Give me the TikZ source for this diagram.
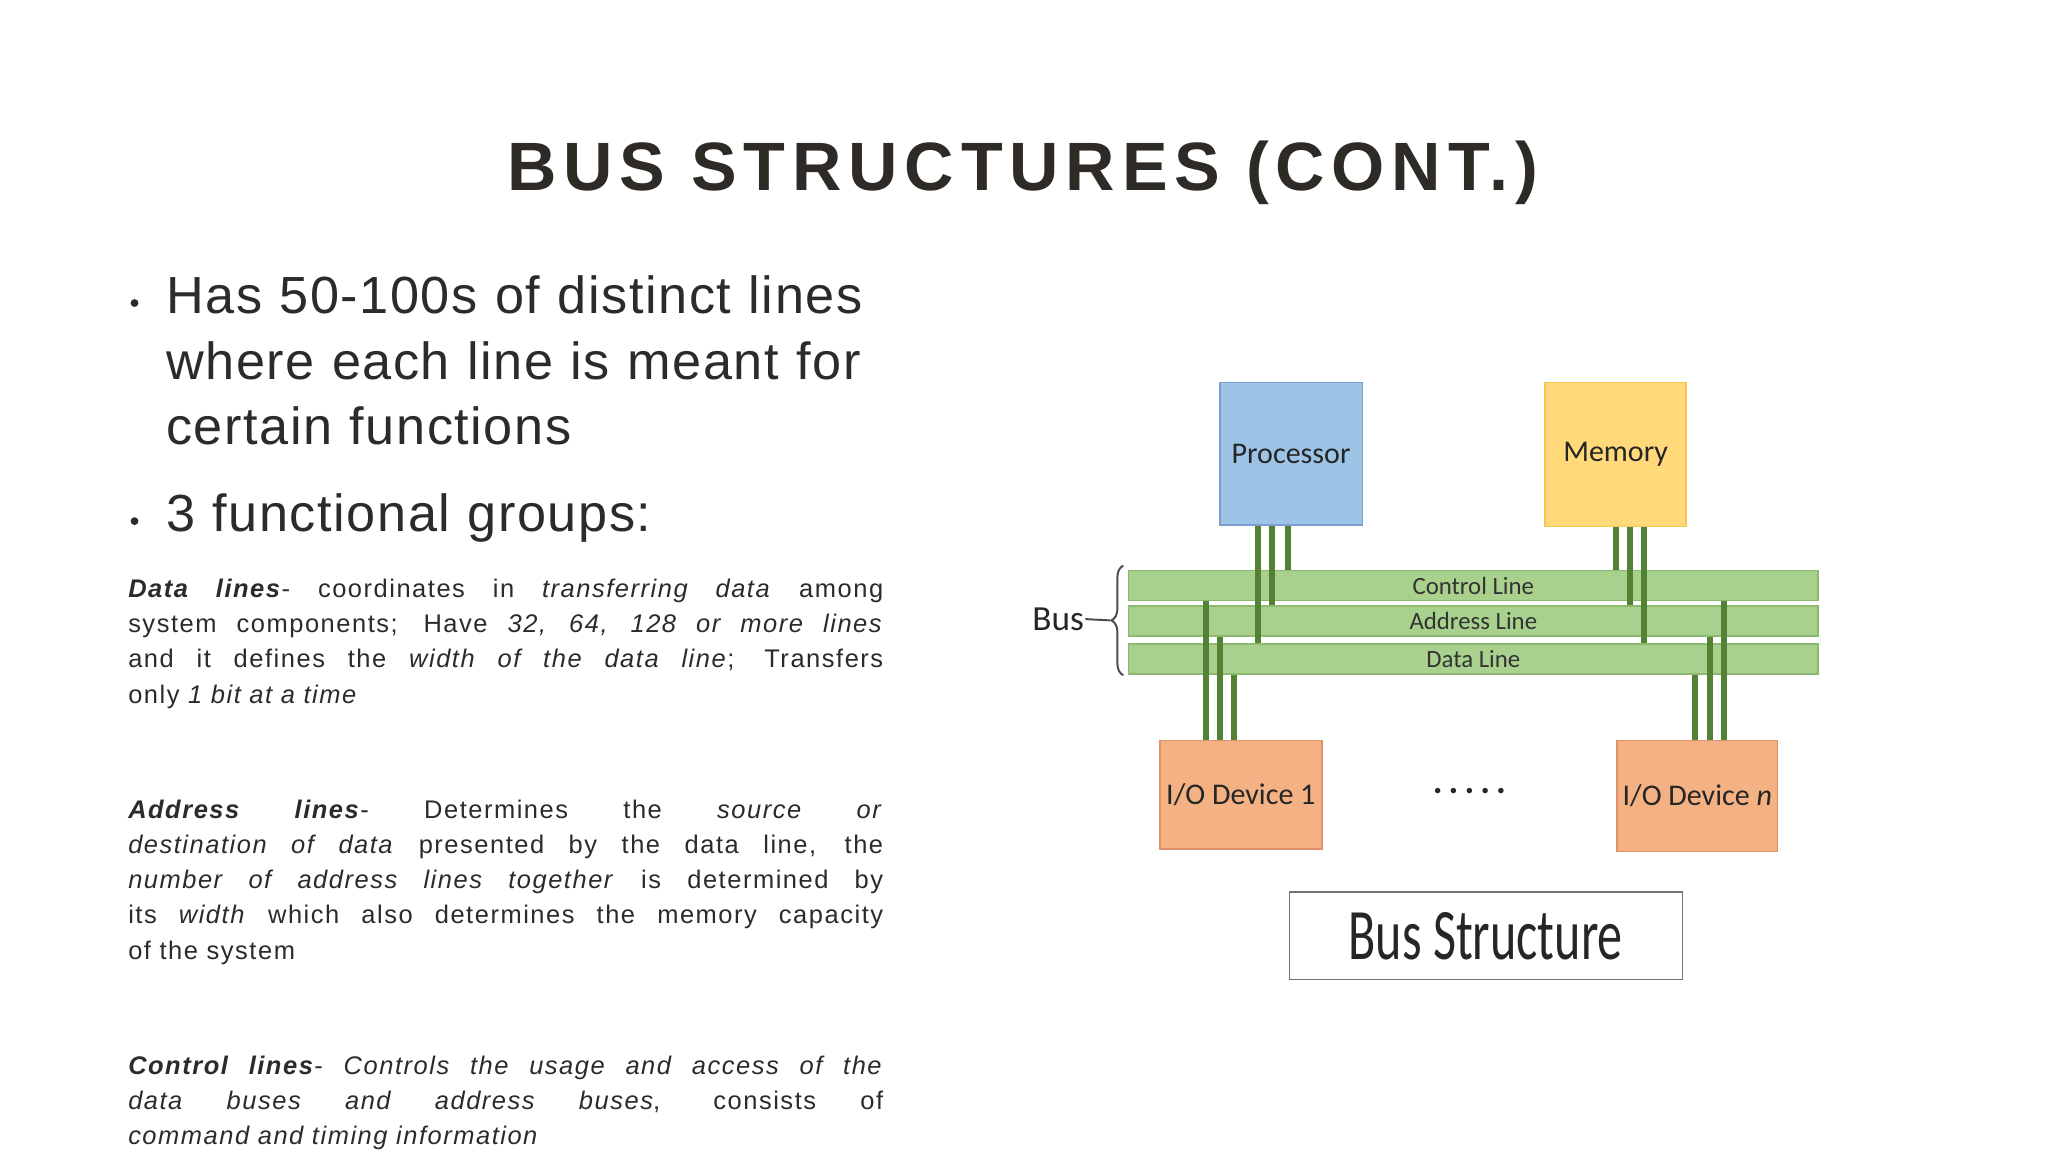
\documentclass[tikz,border=0pt]{standalone}
\usepackage{fontspec}
\usepackage{graphicx}
\usetikzlibrary{decorations.pathreplacing}
\setmainfont{Liberation Sans}
\newfontfamily\titlef[LetterSpace=10]{Liberation Sans}
\newfontfamily\bodyf[LetterSpace=6]{Liberation Sans}
\newfontfamily\bulf[LetterSpace=3]{Liberation Sans}
\newfontfamily\diagf{Carlito}
\definecolor{ink}{HTML}{2E2A25}
\definecolor{txt}{HTML}{2B2B2B}
\definecolor{procf}{HTML}{9DC3E6}\definecolor{procd}{HTML}{7A9FCF}
\definecolor{memf}{HTML}{FFD97A}\definecolor{memd}{HTML}{F2C850}
\definecolor{iof}{HTML}{F4B183}\definecolor{iod}{HTML}{E0906A}
\definecolor{busf}{HTML}{A9D18E}\definecolor{busd}{HTML}{8CB872}
\definecolor{wire}{HTML}{548235}
\tikzset{
 unitbox/.style={draw=#1, line width=1.2pt, inner sep=0, font=\diagf\fontsize{23}{24}\selectfont, text=black!85},
 busbar/.style={draw=busd, fill=busf, line width=1pt, inner sep=0, minimum height=23pt, minimum width=528pt, font=\diagf\fontsize{19}{20}\selectfont, text=black!80},
 wireline/.style={draw=wire, line width=4.5pt},
 bodytext/.style={anchor=north west, inner sep=0, text width=578pt, align=justify, text=txt, font=\bodyf\fontsize{19.5}{27}\selectfont},
 bullettext/.style={anchor=north west, inner sep=0, text width=600pt, align=left, text=txt, font=\bulf\fontsize{40}{50}\selectfont},
 bulletdot/.style={circle, fill=txt, inner sep=0, minimum size=6pt},
}
\begin{document}
\begin{tikzpicture}[x=1pt,y=-1pt]
\useasboundingbox[fill=white] (0,0) rectangle (1568,882);
% title
\node[text=ink, inner sep=0] (title) at (783,132) {\resizebox{789pt}{!}{\titlef\bfseries\fontsize{60}{60}\selectfont BUS STRUCTURES (CONT.)}};
% bullets
\node[bulletdot] (b1) at (103,232) {};
\node[bullettext] (t1) at (127,211) {Has 50-100s of distinct lines\\where each line is meant for\\certain functions};
\node[bulletdot] (b2) at (103,399) {};
\node[bullettext] (t2) at (127,378) {3 functional groups:};
% paragraphs
\node[bodytext] (p1) at (98,443) {\textbf{\textit{Data lines}}- coordinates in \textit{transferring data} among\linebreak system components; Have \textit{32, 64, 128 or more lines}\linebreak and it defines the \textit{width of the data line}; Transfers\linebreak only \textit{1 bit at a time}};
\node[bodytext] (p2) at (98,612) {\textbf{\textit{Address lines}}- Determines the \textit{source or}\linebreak \textit{destination of data} presented by the data line, the\linebreak \textit{number of address lines together} is determined by\linebreak its \textit{width} which also determines the memory capacity\linebreak of the system};
\node[bodytext] (p3) at (98,808) {\textbf{\textit{Control lines}}- \textit{Controls the usage and access of the}\linebreak \textit{data buses and address buses}, consists of\linebreak \textit{command and timing information}};
% bus bars
\node[busbar] (ctl) at (1128,448.5) {Control Line};
\node[busbar] (adr) at (1128,475.5) {Address Line};
\node[busbar] (dat) at (1128,504.5) {Data Line};
% units
\node[unitbox=procd, fill=procf, minimum width=109pt, minimum height=109pt] (proc) at (988.5,347.5) {Processor};
\node[unitbox=memd, fill=memf, minimum width=108pt, minimum height=110pt] (mem) at (1237,348) {Memory};
\node[unitbox=iod, fill=iof, minimum width=124pt, minimum height=83pt] (io1) at (950,608.5) {I/O Device 1};
\node[unitbox=iod, fill=iof, minimum width=123pt, minimum height=85pt] (ion) at (1299.5,609.5) {I/O Device \textit{n}};
\node[font=\diagf\bfseries\fontsize{28}{28}\selectfont, text=black!85] (dots) at (1125,606) {.\,.\,.\,.\,.};
% wires
\draw[wireline] (proc.south -| 963,0) -- (dat.north -| 963,0);
\draw[wireline] (proc.south -| 974,0) -- (adr.north -| 974,0);
\draw[wireline] (proc.south -| 986,0) -- (ctl.north -| 986,0);
\draw[wireline] (mem.south -| 1237,0) -- (ctl.north -| 1237,0);
\draw[wireline] (mem.south -| 1248,0) -- (adr.north -| 1248,0);
\draw[wireline] (mem.south -| 1259,0) -- (dat.north -| 1259,0);
\draw[wireline] (ctl.south -| 923,0) -- (io1.north -| 923,0);
\draw[wireline] (adr.south -| 934,0) -- (io1.north -| 934,0);
\draw[wireline] (dat.south -| 945,0) -- (io1.north -| 945,0);
\draw[wireline] (dat.south -| 1298,0) -- (ion.north -| 1298,0);
\draw[wireline] (adr.south -| 1309,0) -- (ion.north -| 1309,0);
\draw[wireline] (ctl.south -| 1320,0) -- (ion.north -| 1320,0);
% bus brace
\coordinate (bt) at (860,433);
\coordinate (bb) at (860,517);
\draw[black!70, line width=1.5pt, decorate, decoration={brace, amplitude=9pt}] (bb) -- (bt);
\node[font=\diagf\fontsize{27}{27}\selectfont, text=black!85, anchor=east, inner sep=1pt] (bus) at (831,474) {Bus};
\coordinate (bm) at (850,475);
\draw[black!70, line width=1.5pt] (bus.east) -- (bm);
% caption
\node[draw=black!55, line width=1pt, minimum width=301pt, minimum height=67pt, inner sep=0, font=\diagf\fontsize{42}{42}\selectfont, text=black!85] (cap) at (1137.5,716.5) {\resizebox{210pt}{36pt}{Bus Structure}};
\end{tikzpicture}
\end{document}
